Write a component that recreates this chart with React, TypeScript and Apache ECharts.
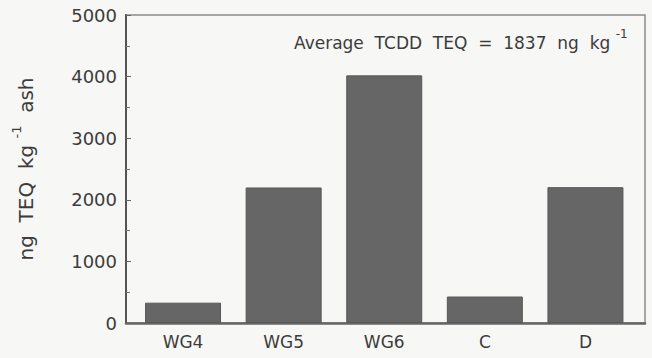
import React, { useEffect, useRef } from "react";
import * as echarts from "echarts";

const categories: string[] = ["WG4", "WG5", "WG6", "C", "D"];
const teqValues: number[] = [330, 2200, 4020, 430, 2205];
const yTicks: number[] = [0, 1000, 2000, 3000, 4000, 5000];

const FONT = "DejaVu Sans";
const TEXT = "#3c3c3c";

export default function App() {
  const ref = useRef<HTMLDivElement>(null);
  useEffect(() => {
    if (!ref.current) return;
    const chart = echarts.init(ref.current, null, { renderer: "svg" });
    const avg = Math.round(teqValues.reduce((a, b) => a + b, 0) / teqValues.length);
    chart.setOption({
      animation: false,
      backgroundColor: "#f7f7f5",
      title: {
        text: `{a|Average  TCDD  TEQ  =  ${avg}  ng  kg }{s|-1}`,
        left: 289,
        top: 23,
        textStyle: {
          fontWeight: "normal",
          rich: {
            a: { fontFamily: FONT, fontSize: 17, fontWeight: "normal", color: TEXT, lineHeight: 23, verticalAlign: "bottom" },
            s: { fontFamily: FONT, fontSize: 12, fontWeight: "normal", color: TEXT, lineHeight: 23, verticalAlign: "top" },
          },
        },
      },
      grid: {
        left: 126,
        top: 15,
        right: 7,
        bottom: 35,
        show: true,
        borderColor: "#8c8c8c",
        borderWidth: 1.5,
        backgroundColor: "transparent",
      },
      xAxis: {
        type: "value",
        min: 0.433,
        max: 5.592,
        splitLine: { show: false },
        axisLine: { show: true, lineStyle: { color: "#666", width: 2.5 } },
        axisTick: { show: false },
        axisLabel: {
          customValues: categories.map((_, i) => i + 1),
          formatter: (v: number) => categories[Math.round(v) - 1] ?? "",
          fontFamily: FONT,
          fontSize: 17,
          color: TEXT,
          margin: 10,
        },
      },
      yAxis: {
        type: "value",
        min: yTicks[0],
        max: yTicks[yTicks.length - 1],
        interval: 1000,
        splitLine: { show: false },
        axisLine: { show: true, lineStyle: { color: "#555", width: 2 } },
        axisTick: { show: true, inside: true, length: 5, lineStyle: { color: "#666" } },
        minorTick: { show: true, splitNumber: 2, length: 4, lineStyle: { color: "#777" } },
        axisLabel: {
          fontFamily: FONT,
          fontSize: 18,
          color: TEXT,
          margin: 9,
          formatter: (v: number) => String(v),
        },
        name: "{a|ng  TEQ  kg }{s|-1}{a|  ash}",
        nameLocation: "middle",
        nameGap: 90,
        nameRotate: 90,
        nameTextStyle: {
          rich: {
            a: { fontFamily: FONT, fontSize: 20, color: TEXT, lineHeight: 26, verticalAlign: "bottom" },
            s: { fontFamily: FONT, fontSize: 13, color: TEXT, lineHeight: 26, verticalAlign: "top" },
          },
        },
      },
      series: [
        {
          type: "bar",
          data: teqValues.map((v, i) => [i + 1, v]),
          barWidth: 76,
          itemStyle: { color: "#666666", borderColor: "#585858", borderWidth: 1 },
        },
      ],
    });
    return () => chart.dispose();
  }, []);
  return (
    <div
      ref={ref}
      style={{ position: "fixed", left: 0, top: 0, width: 652, height: 358 }}
    />
  );
}
